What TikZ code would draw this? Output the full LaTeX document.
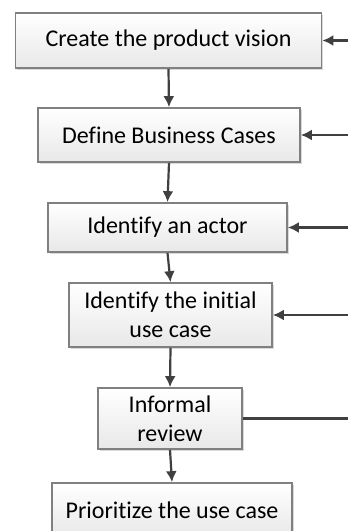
\documentclass[tikz,border=0pt]{standalone}
\usepackage{fontspec}
\setmainfont{Carlito}[Ligatures=NoCommon]
\usepackage{tikz}
\usetikzlibrary{arrows.meta,shadows}

\tikzset{
  stepbox/.style={draw=black!50, line width=0.85pt, top color=white, bottom color=black!9,
    drop shadow={shadow xshift=0.8pt, shadow yshift=-0.8pt, opacity=0.25, fill=black!60},
    align=center, inner sep=0pt, font=\fontsize{12}{14.5}\selectfont},
  flow/.style={draw=black!75, line width=1.1pt, -{Latex[length=5.5pt,width=5.5pt]}},
  feed/.style={draw=black!75, line width=1.1pt}
}

\begin{document}
\begin{tikzpicture}[x=0.5pt, y=-0.5pt]
  \useasboundingbox (0,0) rectangle (348,531);

  \node [stepbox, minimum width=153pt, minimum height=27.5pt] (vision) at (168.5, 40.5) {Create the product vision};
  \node [stepbox, minimum width=131pt, minimum height=27pt] (business) at (169, 135) {Define Business Cases};
  \node [stepbox, minimum width=119.5pt, minimum height=24.5pt] (actor) at (167.5, 227.5) {Identify an actor};
  \node [stepbox, minimum width=101.5pt, minimum height=32pt] (usecase) at (170.5, 315) {Identify the initial\\use case};
  \node [stepbox, minimum width=72pt, minimum height=30.5pt] (review) at (170, 418.5) {Informal\\review};
  \node [stepbox, minimum width=120pt, minimum height=27pt, text depth=0pt] (prioritize) at (172, 510) {Prioritize the use case};

  \draw [flow] (vision.south) -- (business.north);
  \draw [flow] (business.south) -- (actor.north);
  \draw [flow] (actor.south) -- (usecase.north);
  \draw [flow] (usecase.south) -- (review.north);
  \draw [flow] (review.south) -- (prioritize.north);

  % lines coming in from the right edge
  \coordinate (in1) at (348, 40.5);
  \coordinate (in2) at (348, 135);
  \coordinate (in3) at (348, 227.5);
  \coordinate (in4) at (348, 315);
  \coordinate (out5) at (348, 418.5);

  \draw [flow] (in1) -- (vision);
  \draw [flow] (in2) -- (business);
  \draw [flow] (in3) -- (actor);
  \draw [flow] (in4) -- (usecase);
  \draw [feed] (review) -- (out5);
\end{tikzpicture}
\end{document}
